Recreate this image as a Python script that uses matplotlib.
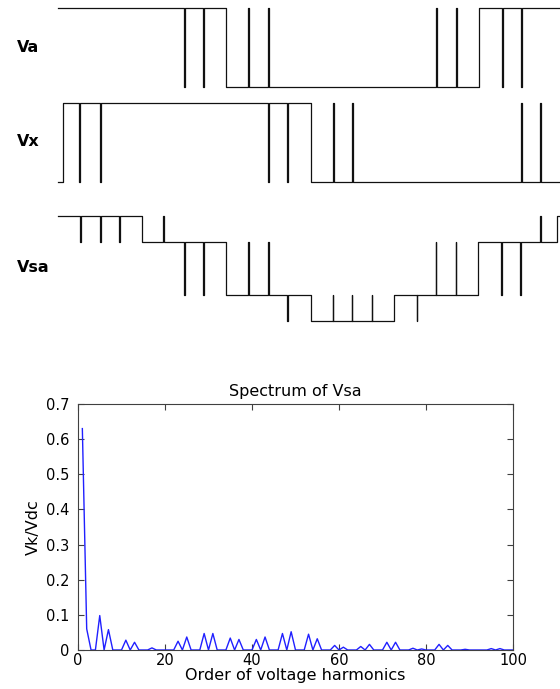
import numpy as np
import matplotlib
matplotlib.use("Agg")
import matplotlib.pyplot as plt

# ---------------- data ----------------
# Switching waveforms (angles in electrical degrees over one period)
va_steps = [120.5, 301.9]
va_levels = [1, -1, 1]
va_pulses = [90.4, 104.0, 136.2, 150.6, 271.1, 285.4, 318.4, 332.0]
va_pulse_levels = [-1, -1, 1, 1, 1, 1, -1, -1]

vx_steps = [3.6, 181.4]
vx_levels = [-1, 1, -1]
vx_pulses = [15.1, 30.1, 150.6, 164.2, 197.2, 210.8, 332.0, 345.6]
vx_pulse_levels = [-1, -1, -1, -1, 1, 1, 1, 1]

vsa_steps = [60.2, 120.5, 181.2, 241.2, 301.4, 357.6]
vsa_levels = [2, 1, -1, -2, -1, 1, 2]
vsa_pulses = [15.8, 30.1, 43.7, 75.5, 90.6, 104.2, 136.5, 150.8, 164.4,
              197.0, 210.6, 225.0, 257.2, 270.8, 285.2, 317.7, 331.3, 345.6]
vsa_pulse_levels = [1, 1, 1, 2, -1, -1, 1, 1, -2,
                    -1, -1, -1, -2, 1, 1, -1, -1, 2]

wave_labels = ["Va", "Vx", "Vsa"]

# Spectrum of Vsa (harmonic order -> Vk/Vdc), non-zero harmonics
harm_orders = [1, 2, 5, 7, 11, 13, 17, 23, 25, 29, 31, 35, 37, 41, 43, 47, 49,
               53, 55, 59, 61, 65, 67, 71, 73, 77, 79, 83, 85, 89, 95, 97]
harm_mag = [0.63, 0.06, 0.098, 0.058, 0.028, 0.022, 0.006, 0.025, 0.037, 0.047,
            0.047, 0.034, 0.030, 0.030, 0.037, 0.047, 0.052, 0.045, 0.032, 0.013,
            0.008, 0.010, 0.016, 0.022, 0.022, 0.005, 0.003, 0.016, 0.013, 0.002,
            0.004, 0.004]
max_order = 100

# ---------------- helpers ----------------
def build_wave(steps, levels, pulses, plevels, w=0.5):
    events = [(a, "s", l) for a, l in zip(steps, levels[1:])]
    events += [(a, "p", l) for a, l in zip(pulses, plevels)]
    events.sort(key=lambda e: e[0])
    cur = levels[0]
    xs, ys = [0.0], [cur]
    for a, kind, l in events:
        if kind == "s":
            xs += [a, a]
            ys += [cur, l]
            cur = l
        else:
            xs += [a, a, a + w, a + w]
            ys += [cur, l, l, cur]
    xs.append(360.0)
    ys.append(cur)
    return xs, ys

W, H = 560, 689
fig = plt.figure(figsize=(W / 100, H / 100), dpi=100)

def px_axes(x0, y0, x1, y1):
    return fig.add_axes([x0 / W, 1 - y1 / H, (x1 - x0) / W, (y1 - y0) / H])

waves = [
    (va_steps, va_levels, va_pulses, va_pulse_levels, (8, 87), 1),
    (vx_steps, vx_levels, vx_pulses, vx_pulse_levels, (103, 182), 1),
    (vsa_steps, vsa_levels, vsa_pulses, vsa_pulse_levels, (216, 321), 2),
]
label_y = [48, 142, 268]
for (st, lv, pu, pl, (yt, yb), amp), lab, ly in zip(waves, wave_labels, label_y):
    ax = px_axes(58, yt, 560, yb)
    xs, ys = build_wave(st, lv, pu, pl)
    ax.plot(xs, ys, color="#111111", lw=0.9, clip_on=False)
    ax.set_xlim(0, 360)
    ax.set_ylim(-amp, amp)
    ax.axis("off")
    fig.text(17 / W, 1 - ly / H, lab, fontsize=11.5, fontweight="bold",
             family="DejaVu Sans", ha="left", va="center")

# ---------------- spectrum ----------------
k = np.arange(1, max_order + 1)
mag = np.zeros(max_order)
for o, m in zip(harm_orders, harm_mag):
    mag[o - 1] = m

ax = px_axes(78, 404, 513, 650)
ax.plot(k, mag, color="#2020ff", lw=1.0)
ax.set_xlim(0, 100)
ax.set_ylim(0, 0.7)
ax.set_xticks(np.arange(0, 101, 20))
ax.set_yticks(np.arange(0, 0.71, 0.1))
ax.set_yticklabels(["0", "0.1", "0.2", "0.3", "0.4", "0.5", "0.6", "0.7"])
ax.tick_params(direction="in", top=True, right=True, length=4, width=0.8,
               color="#404040", labelsize=10.5)
ax.tick_params(axis="x", pad=2)
ax.tick_params(axis="y", pad=6)
for s in ax.spines.values():
    s.set_color("#404040")
    s.set_linewidth(0.8)
for t in ax.get_xticklabels() + ax.get_yticklabels():
    t.set_family("DejaVu Sans")
ax.set_title("Spectrum of Vsa", fontsize=11.5, family="DejaVu Sans", pad=6)
ax.set_xlabel("Order of voltage harmonics", fontsize=11.5, family="DejaVu Sans",
              labelpad=0)
ax.set_ylabel("Vk/Vdc", fontsize=11.5, family="DejaVu Sans", labelpad=4)

fig.savefig("out.png", dpi=100)
